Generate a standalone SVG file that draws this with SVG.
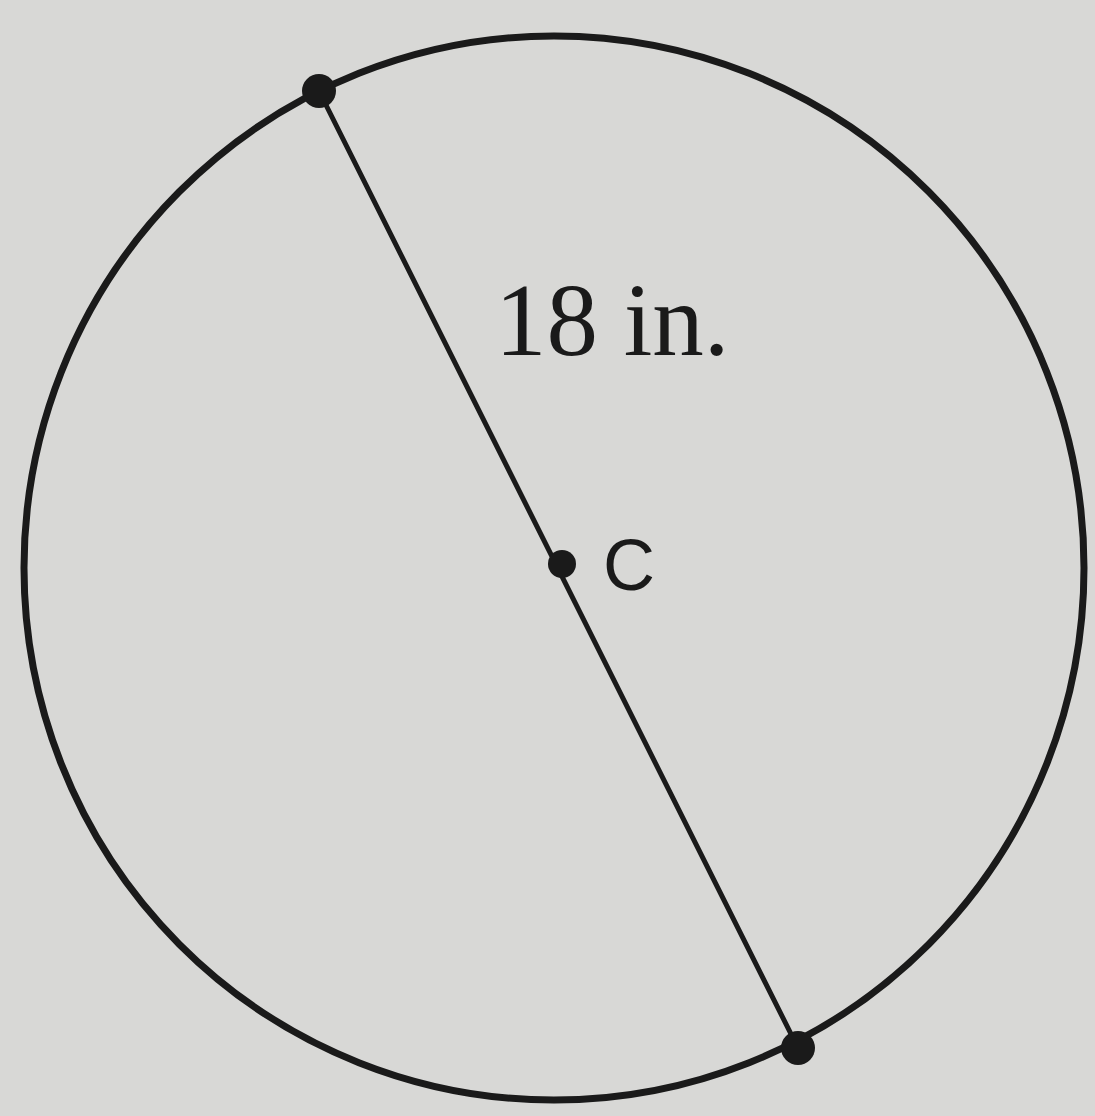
<svg xmlns="http://www.w3.org/2000/svg" width="1095" height="1116" viewBox="0 0 1095 1116">
<style>
.ln{stroke:#1a1a1a;fill:none;stroke-linecap:round}
.dot{fill:#1a1a1a}
</style>
<rect x="0" y="0" width="1095" height="1116" fill="#d8d8d6"/>
<g id="circle">
<ellipse class="ln" cx="554" cy="568" rx="530" ry="532" stroke-width="7"/>
</g>
<g id="connectors">
<line class="ln" x1="319" y1="91" x2="798" y2="1048" stroke-width="5"/>
</g>
<g id="pointA"><circle class="dot" cx="319" cy="91" r="17"/></g>
<g id="pointC"><circle class="dot" cx="562" cy="564" r="14"/>
<text x="603" y="590" font-family="Liberation Sans, Arial, sans-serif" font-size="72" fill="#1a1a1a">C</text></g>
<g id="pointB"><circle class="dot" cx="798" cy="1048" r="17"/></g>
<g id="label"><text x="495" y="355" font-family="Liberation Serif, Times New Roman, serif" font-size="103" fill="#1a1a1a">18 in.</text></g>
</svg>
